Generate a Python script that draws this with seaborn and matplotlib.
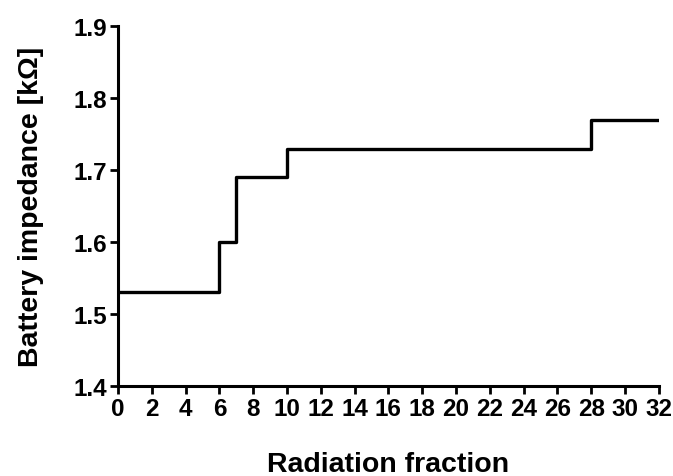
import matplotlib
matplotlib.use("Agg")
import matplotlib.pyplot as plt
import numpy as np
import pandas as pd
import seaborn as sns

# step points (value holds until next fraction)
fraction = [0, 6, 7, 10, 28, 32]
impedance = [1.53, 1.60, 1.69, 1.73, 1.77, 1.77]
x_ticks = list(range(0, 33, 2))
y_ticks = [1.4, 1.5, 1.6, 1.7, 1.8, 1.9]

df = pd.DataFrame({"fraction": fraction, "impedance": impedance})

sns.set_style("ticks")
plt.rcParams['font.family'] = ['Liberation Sans', 'DejaVu Sans']
plt.rcParams['font.weight'] = 'bold'
plt.rcParams['text.color'] = 'black'
plt.rcParams['axes.labelcolor'] = 'black'

fig = plt.figure(figsize=(6.73, 4.77), dpi=100)
ax = fig.add_axes([0.1753, 0.1887, 0.8037, 0.7543])

sns.lineplot(data=df, x="fraction", y="impedance", ax=ax, color="black",
             linewidth=2.4, drawstyle="steps-post")

ax.set_xlim(0, 32)
ax.set_ylim(1.4, 1.9)
ax.set_xticks(x_ticks)
ax.set_yticks(y_ticks)
ax.set_yticklabels([f"{v:.1f}" for v in y_ticks])
ax.tick_params(labelsize=17.5, width=2, length=6, direction="out", pad=2, colors="black")
for lab in ax.get_xticklabels() + ax.get_yticklabels():
    lab.set_fontweight("bold")

ax.set_xlabel("Radiation fraction", fontsize=20.5, fontweight="bold", labelpad=22)
ax.set_ylabel("Battery impedance [k\u03a9]", fontsize=20.5, fontweight="bold", labelpad=21)

sns.despine(ax=ax)
for s in ["left", "bottom"]:
    ax.spines[s].set_linewidth(2.2)
    ax.spines[s].set_color("black")

fig.savefig("out.png", dpi=100)
